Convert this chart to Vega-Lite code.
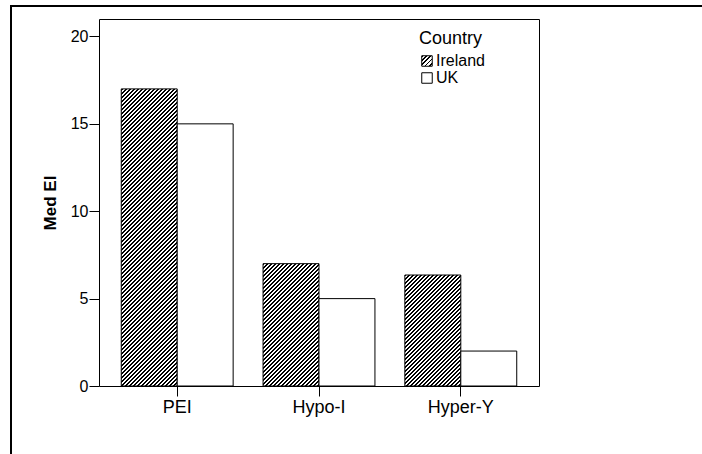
{
"$schema":"https://vega.github.io/schema/vega-lite/v6.json",
"width":700,"height":460,
"autosize":"none",
"padding":{"left":11,"top":6,"right":-9,"bottom":-12},
"background":"white",
"params":[
{"name":"lgrad","value":{"gradient":"linear","x1":0,"y1":0,"x2":1,"y2":1,"stops":[
{"offset":0,"color":"#000"},{"offset":0.09,"color":"#000"},{"offset":0.09,"color":"#fff"},{"offset":0.2,"color":"#fff"},
{"offset":0.2,"color":"#000"},{"offset":0.29,"color":"#000"},{"offset":0.29,"color":"#fff"},{"offset":0.4,"color":"#fff"},
{"offset":0.4,"color":"#000"},{"offset":0.49,"color":"#000"},{"offset":0.49,"color":"#fff"},{"offset":0.6,"color":"#fff"},
{"offset":0.6,"color":"#000"},{"offset":0.69,"color":"#000"},{"offset":0.69,"color":"#fff"},{"offset":0.8,"color":"#fff"},
{"offset":0.8,"color":"#000"},{"offset":0.89,"color":"#000"},{"offset":0.89,"color":"#fff"},{"offset":1,"color":"#fff"}]}},
{"name":"hatch","value":[
{"offset":0,"color":"#000"},{"offset":0.0055,"color":"#000"},{"offset":0.0055,"color":"#fff"},{"offset":0.011,"color":"#fff"},
{"offset":0.011,"color":"#000"},{"offset":0.0165,"color":"#000"},{"offset":0.0165,"color":"#fff"},{"offset":0.022,"color":"#fff"},
{"offset":0.022,"color":"#000"},{"offset":0.0275,"color":"#000"},{"offset":0.0275,"color":"#fff"},{"offset":0.033,"color":"#fff"},
{"offset":0.033,"color":"#000"},{"offset":0.0385,"color":"#000"},{"offset":0.0385,"color":"#fff"},{"offset":0.044,"color":"#fff"},
{"offset":0.044,"color":"#000"},{"offset":0.0495,"color":"#000"},{"offset":0.0495,"color":"#fff"},{"offset":0.055,"color":"#fff"},
{"offset":0.055,"color":"#000"},{"offset":0.0605,"color":"#000"},{"offset":0.0605,"color":"#fff"},{"offset":0.066,"color":"#fff"},
{"offset":0.066,"color":"#000"},{"offset":0.0715,"color":"#000"},{"offset":0.0715,"color":"#fff"},{"offset":0.077,"color":"#fff"},
{"offset":0.077,"color":"#000"},{"offset":0.0825,"color":"#000"},{"offset":0.0825,"color":"#fff"},{"offset":0.088,"color":"#fff"},
{"offset":0.088,"color":"#000"},{"offset":0.0935,"color":"#000"},{"offset":0.0935,"color":"#fff"},{"offset":0.099,"color":"#fff"},
{"offset":0.099,"color":"#000"},{"offset":0.1045,"color":"#000"},{"offset":0.1045,"color":"#fff"},{"offset":0.11,"color":"#fff"},
{"offset":0.11,"color":"#000"},{"offset":0.1155,"color":"#000"},{"offset":0.1155,"color":"#fff"},{"offset":0.121,"color":"#fff"},
{"offset":0.121,"color":"#000"},{"offset":0.1265,"color":"#000"},{"offset":0.1265,"color":"#fff"},{"offset":0.132,"color":"#fff"},
{"offset":0.132,"color":"#000"},{"offset":0.1375,"color":"#000"},{"offset":0.1375,"color":"#fff"},{"offset":0.143,"color":"#fff"},
{"offset":0.143,"color":"#000"},{"offset":0.1485,"color":"#000"},{"offset":0.1485,"color":"#fff"},{"offset":0.154,"color":"#fff"},
{"offset":0.154,"color":"#000"},{"offset":0.1595,"color":"#000"},{"offset":0.1595,"color":"#fff"},{"offset":0.165,"color":"#fff"},
{"offset":0.165,"color":"#000"},{"offset":0.1705,"color":"#000"},{"offset":0.1705,"color":"#fff"},{"offset":0.176,"color":"#fff"},
{"offset":0.176,"color":"#000"},{"offset":0.1815,"color":"#000"},{"offset":0.1815,"color":"#fff"},{"offset":0.187,"color":"#fff"},
{"offset":0.187,"color":"#000"},{"offset":0.1925,"color":"#000"},{"offset":0.1925,"color":"#fff"},{"offset":0.198,"color":"#fff"},
{"offset":0.198,"color":"#000"},{"offset":0.2035,"color":"#000"},{"offset":0.2035,"color":"#fff"},{"offset":0.209,"color":"#fff"},
{"offset":0.209,"color":"#000"},{"offset":0.2145,"color":"#000"},{"offset":0.2145,"color":"#fff"},{"offset":0.22,"color":"#fff"},
{"offset":0.22,"color":"#000"},{"offset":0.2255,"color":"#000"},{"offset":0.2255,"color":"#fff"},{"offset":0.231,"color":"#fff"},
{"offset":0.231,"color":"#000"},{"offset":0.2365,"color":"#000"},{"offset":0.2365,"color":"#fff"},{"offset":0.242,"color":"#fff"},
{"offset":0.242,"color":"#000"},{"offset":0.2475,"color":"#000"},{"offset":0.2475,"color":"#fff"},{"offset":0.253,"color":"#fff"},
{"offset":0.253,"color":"#000"},{"offset":0.2585,"color":"#000"},{"offset":0.2585,"color":"#fff"},{"offset":0.264,"color":"#fff"},
{"offset":0.264,"color":"#000"},{"offset":0.2695,"color":"#000"},{"offset":0.2695,"color":"#fff"},{"offset":0.275,"color":"#fff"},
{"offset":0.275,"color":"#000"},{"offset":0.2805,"color":"#000"},{"offset":0.2805,"color":"#fff"},{"offset":0.286,"color":"#fff"},
{"offset":0.286,"color":"#000"},{"offset":0.2915,"color":"#000"},{"offset":0.2915,"color":"#fff"},{"offset":0.297,"color":"#fff"},
{"offset":0.297,"color":"#000"},{"offset":0.3025,"color":"#000"},{"offset":0.3025,"color":"#fff"},{"offset":0.308,"color":"#fff"},
{"offset":0.308,"color":"#000"},{"offset":0.3135,"color":"#000"},{"offset":0.3135,"color":"#fff"},{"offset":0.319,"color":"#fff"},
{"offset":0.319,"color":"#000"},{"offset":0.3245,"color":"#000"},{"offset":0.3245,"color":"#fff"},{"offset":0.33,"color":"#fff"},
{"offset":0.33,"color":"#000"},{"offset":0.3355,"color":"#000"},{"offset":0.3355,"color":"#fff"},{"offset":0.341,"color":"#fff"},
{"offset":0.341,"color":"#000"},{"offset":0.3465,"color":"#000"},{"offset":0.3465,"color":"#fff"},{"offset":0.352,"color":"#fff"},
{"offset":0.352,"color":"#000"},{"offset":0.3575,"color":"#000"},{"offset":0.3575,"color":"#fff"},{"offset":0.363,"color":"#fff"},
{"offset":0.363,"color":"#000"},{"offset":0.3685,"color":"#000"},{"offset":0.3685,"color":"#fff"},{"offset":0.374,"color":"#fff"},
{"offset":0.374,"color":"#000"},{"offset":0.3795,"color":"#000"},{"offset":0.3795,"color":"#fff"},{"offset":0.385,"color":"#fff"},
{"offset":0.385,"color":"#000"},{"offset":0.3905,"color":"#000"},{"offset":0.3905,"color":"#fff"},{"offset":0.396,"color":"#fff"},
{"offset":0.396,"color":"#000"},{"offset":0.4015,"color":"#000"},{"offset":0.4015,"color":"#fff"},{"offset":0.407,"color":"#fff"},
{"offset":0.407,"color":"#000"},{"offset":0.4125,"color":"#000"},{"offset":0.4125,"color":"#fff"},{"offset":0.418,"color":"#fff"},
{"offset":0.418,"color":"#000"},{"offset":0.4235,"color":"#000"},{"offset":0.4235,"color":"#fff"},{"offset":0.429,"color":"#fff"},
{"offset":0.429,"color":"#000"},{"offset":0.4345,"color":"#000"},{"offset":0.4345,"color":"#fff"},{"offset":0.44,"color":"#fff"},
{"offset":0.44,"color":"#000"},{"offset":0.4455,"color":"#000"},{"offset":0.4455,"color":"#fff"},{"offset":0.451,"color":"#fff"},
{"offset":0.451,"color":"#000"},{"offset":0.4565,"color":"#000"},{"offset":0.4565,"color":"#fff"},{"offset":0.462,"color":"#fff"},
{"offset":0.462,"color":"#000"},{"offset":0.4675,"color":"#000"},{"offset":0.4675,"color":"#fff"},{"offset":0.473,"color":"#fff"},
{"offset":0.473,"color":"#000"},{"offset":0.4785,"color":"#000"},{"offset":0.4785,"color":"#fff"},{"offset":0.484,"color":"#fff"},
{"offset":0.484,"color":"#000"},{"offset":0.4895,"color":"#000"},{"offset":0.4895,"color":"#fff"},{"offset":0.495,"color":"#fff"},
{"offset":0.495,"color":"#000"},{"offset":0.5005,"color":"#000"},{"offset":0.5005,"color":"#fff"},{"offset":0.506,"color":"#fff"},
{"offset":0.506,"color":"#000"},{"offset":0.5115,"color":"#000"},{"offset":0.5115,"color":"#fff"},{"offset":0.517,"color":"#fff"},
{"offset":0.517,"color":"#000"},{"offset":0.5225,"color":"#000"},{"offset":0.5225,"color":"#fff"},{"offset":0.528,"color":"#fff"},
{"offset":0.528,"color":"#000"},{"offset":0.5335,"color":"#000"},{"offset":0.5335,"color":"#fff"},{"offset":0.539,"color":"#fff"},
{"offset":0.539,"color":"#000"},{"offset":0.5445,"color":"#000"},{"offset":0.5445,"color":"#fff"},{"offset":0.55,"color":"#fff"},
{"offset":0.55,"color":"#000"},{"offset":0.5555,"color":"#000"},{"offset":0.5555,"color":"#fff"},{"offset":0.561,"color":"#fff"},
{"offset":0.561,"color":"#000"},{"offset":0.5665,"color":"#000"},{"offset":0.5665,"color":"#fff"},{"offset":0.572,"color":"#fff"},
{"offset":0.572,"color":"#000"},{"offset":0.5775,"color":"#000"},{"offset":0.5775,"color":"#fff"},{"offset":0.583,"color":"#fff"},
{"offset":0.583,"color":"#000"},{"offset":0.5885,"color":"#000"},{"offset":0.5885,"color":"#fff"},{"offset":0.594,"color":"#fff"},
{"offset":0.594,"color":"#000"},{"offset":0.5995,"color":"#000"},{"offset":0.5995,"color":"#fff"},{"offset":0.605,"color":"#fff"},
{"offset":0.605,"color":"#000"},{"offset":0.6105,"color":"#000"},{"offset":0.6105,"color":"#fff"},{"offset":0.616,"color":"#fff"},
{"offset":0.616,"color":"#000"},{"offset":0.6215,"color":"#000"},{"offset":0.6215,"color":"#fff"},{"offset":0.627,"color":"#fff"},
{"offset":0.627,"color":"#000"},{"offset":0.6325,"color":"#000"},{"offset":0.6325,"color":"#fff"},{"offset":0.638,"color":"#fff"},
{"offset":0.638,"color":"#000"},{"offset":0.6435,"color":"#000"},{"offset":0.6435,"color":"#fff"},{"offset":0.649,"color":"#fff"},
{"offset":0.649,"color":"#000"},{"offset":0.6545,"color":"#000"},{"offset":0.6545,"color":"#fff"},{"offset":0.66,"color":"#fff"},
{"offset":0.66,"color":"#000"},{"offset":0.6655,"color":"#000"},{"offset":0.6655,"color":"#fff"},{"offset":0.671,"color":"#fff"},
{"offset":0.671,"color":"#000"},{"offset":0.6765,"color":"#000"},{"offset":0.6765,"color":"#fff"},{"offset":0.682,"color":"#fff"},
{"offset":0.682,"color":"#000"},{"offset":0.6875,"color":"#000"},{"offset":0.6875,"color":"#fff"},{"offset":0.693,"color":"#fff"},
{"offset":0.693,"color":"#000"},{"offset":0.6985,"color":"#000"},{"offset":0.6985,"color":"#fff"},{"offset":0.704,"color":"#fff"},
{"offset":0.704,"color":"#000"},{"offset":0.7095,"color":"#000"},{"offset":0.7095,"color":"#fff"},{"offset":0.715,"color":"#fff"},
{"offset":0.715,"color":"#000"},{"offset":0.7205,"color":"#000"},{"offset":0.7205,"color":"#fff"},{"offset":0.726,"color":"#fff"},
{"offset":0.726,"color":"#000"},{"offset":0.7315,"color":"#000"},{"offset":0.7315,"color":"#fff"},{"offset":0.737,"color":"#fff"},
{"offset":0.737,"color":"#000"},{"offset":0.7425,"color":"#000"},{"offset":0.7425,"color":"#fff"},{"offset":0.748,"color":"#fff"},
{"offset":0.748,"color":"#000"},{"offset":0.7535,"color":"#000"},{"offset":0.7535,"color":"#fff"},{"offset":0.759,"color":"#fff"},
{"offset":0.759,"color":"#000"},{"offset":0.7645,"color":"#000"},{"offset":0.7645,"color":"#fff"},{"offset":0.77,"color":"#fff"},
{"offset":0.77,"color":"#000"},{"offset":0.7755,"color":"#000"},{"offset":0.7755,"color":"#fff"},{"offset":0.781,"color":"#fff"},
{"offset":0.781,"color":"#000"},{"offset":0.7865,"color":"#000"},{"offset":0.7865,"color":"#fff"},{"offset":0.792,"color":"#fff"},
{"offset":0.792,"color":"#000"},{"offset":0.7975,"color":"#000"},{"offset":0.7975,"color":"#fff"},{"offset":0.803,"color":"#fff"},
{"offset":0.803,"color":"#000"},{"offset":0.8085,"color":"#000"},{"offset":0.8085,"color":"#fff"},{"offset":0.814,"color":"#fff"},
{"offset":0.814,"color":"#000"},{"offset":0.8195,"color":"#000"},{"offset":0.8195,"color":"#fff"},{"offset":0.825,"color":"#fff"},
{"offset":0.825,"color":"#000"},{"offset":0.8305,"color":"#000"},{"offset":0.8305,"color":"#fff"},{"offset":0.836,"color":"#fff"},
{"offset":0.836,"color":"#000"},{"offset":0.8415,"color":"#000"},{"offset":0.8415,"color":"#fff"},{"offset":0.847,"color":"#fff"},
{"offset":0.847,"color":"#000"},{"offset":0.8525,"color":"#000"},{"offset":0.8525,"color":"#fff"},{"offset":0.858,"color":"#fff"},
{"offset":0.858,"color":"#000"},{"offset":0.8635,"color":"#000"},{"offset":0.8635,"color":"#fff"},{"offset":0.869,"color":"#fff"},
{"offset":0.869,"color":"#000"},{"offset":0.8745,"color":"#000"},{"offset":0.8745,"color":"#fff"},{"offset":0.88,"color":"#fff"},
{"offset":0.88,"color":"#000"},{"offset":0.8855,"color":"#000"},{"offset":0.8855,"color":"#fff"},{"offset":0.891,"color":"#fff"},
{"offset":0.891,"color":"#000"},{"offset":0.8965,"color":"#000"},{"offset":0.8965,"color":"#fff"},{"offset":0.902,"color":"#fff"},
{"offset":0.902,"color":"#000"},{"offset":0.9075,"color":"#000"},{"offset":0.9075,"color":"#fff"},{"offset":0.913,"color":"#fff"},
{"offset":0.913,"color":"#000"},{"offset":0.9185,"color":"#000"},{"offset":0.9185,"color":"#fff"},{"offset":0.924,"color":"#fff"},
{"offset":0.924,"color":"#000"},{"offset":0.9295,"color":"#000"},{"offset":0.9295,"color":"#fff"},{"offset":0.935,"color":"#fff"},
{"offset":0.935,"color":"#000"},{"offset":0.9405,"color":"#000"},{"offset":0.9405,"color":"#fff"},{"offset":0.946,"color":"#fff"},
{"offset":0.946,"color":"#000"},{"offset":0.9515,"color":"#000"},{"offset":0.9515,"color":"#fff"},{"offset":0.957,"color":"#fff"},
{"offset":0.957,"color":"#000"},{"offset":0.9625,"color":"#000"},{"offset":0.9625,"color":"#fff"},{"offset":0.968,"color":"#fff"},
{"offset":0.968,"color":"#000"},{"offset":0.9735,"color":"#000"},{"offset":0.9735,"color":"#fff"},{"offset":0.979,"color":"#fff"},
{"offset":0.979,"color":"#000"},{"offset":0.9845,"color":"#000"},{"offset":0.9845,"color":"#fff"},{"offset":0.99,"color":"#fff"},
{"offset":0.99,"color":"#000"},{"offset":0.9955,"color":"#000"},{"offset":0.9955,"color":"#fff"},{"offset":1,"color":"#fff"}
]}],
"data":{"values":[
{"Group":"PEI","Country":"Ireland","Med":17},
{"Group":"PEI","Country":"UK","Med":15},
{"Group":"Hypo-I","Country":"Ireland","Med":7},
{"Group":"Hypo-I","Country":"UK","Med":5},
{"Group":"Hyper-Y","Country":"Ireland","Med":6.35},
{"Group":"Hyper-Y","Country":"UK","Med":2}
]},
"layer":[
{
"transform":[{"filter":"datum.Country == 'Ireland'"}],
"mark":{"type":"bar","stroke":"black","strokeWidth":1},
"encoding":{
"x":{"field":"Group","type":"nominal","scale":{"domain":["PEI","Hypo-I","Hyper-Y"],"range":[88,528],"paddingInner":0.211,"paddingOuter":0.157},
"axis":{"orient":"bottom","offset":-80,"title":null,"labelAngle":0,"labelFontSize":18,"labelPadding":2,"tickSize":10}},
"xOffset":{"field":"Country","type":"nominal","scale":{"domain":["Ireland","UK"]}},
"y":{"field":"Med","type":"quantitative","scale":{"domain":[0,21],"range":[380,13],"nice":false,"zero":true},
"axis":{"orient":"left","offset":-88,"values":[0,5,10,15,20],"title":"Med EI","titleFontSize":17,"titleFontWeight":"bold","titlePadding":11,"labelFontSize":16,"labelPadding":1,"tickSize":10}},
"fill":{"value":{"expr":"{'gradient':'linear','x1':0,'y1':0,'x2':363.6*55.94/(3129.3+pow(datum.Med*17.476,2)),'y2':363.6*datum.Med*17.476/(3129.3+pow(datum.Med*17.476,2)),'stops':hatch}"}}
}
},
{
"transform":[{"filter":"datum.Country == 'UK'"}],
"mark":{"type":"bar","stroke":"black","strokeWidth":1},
"encoding":{
"x":{"field":"Group","type":"nominal","scale":{"domain":["PEI","Hypo-I","Hyper-Y"],"range":[88,528],"paddingInner":0.211,"paddingOuter":0.157},
"axis":{"orient":"top","offset":-13,"labels":false,"ticks":false,"title":null}},
"xOffset":{"field":"Country","type":"nominal","scale":{"domain":["Ireland","UK"]}},
"y":{"field":"Med","type":"quantitative","scale":{"domain":[0,21],"range":[380,13],"nice":false,"zero":true},
"axis":{"orient":"right","offset":-172,"labels":false,"ticks":false,"title":null}},
"fill":{"field":"Country","type":"nominal",
"scale":{"domain":["Ireland","UK"],"range":[{"expr":"lgrad"},"white"]},
"legend":{"title":"Country","orient":"none","legendX":408,"legendY":24,"titleFontSize":18,"titleFontWeight":"normal","labelFontSize":16,"symbolType":"square","symbolSize":110,"symbolStrokeColor":"black","symbolStrokeWidth":1,"labelOffset":1,"rowPadding":1,"titlePadding":5,"padding":0}}
}
}
],
"resolve":{"axis":{"x":"independent","y":"independent"}},
"config":{
"font":"Liberation Sans",
"view":{"stroke":"black","strokeWidth":2},
"axis":{"grid":false,"domainColor":"black","tickColor":"black","labelColor":"black","titleColor":"black","domainWidth":1,"tickWidth":1},
"legend":{"titleColor":"black","labelColor":"black"}
}
}
